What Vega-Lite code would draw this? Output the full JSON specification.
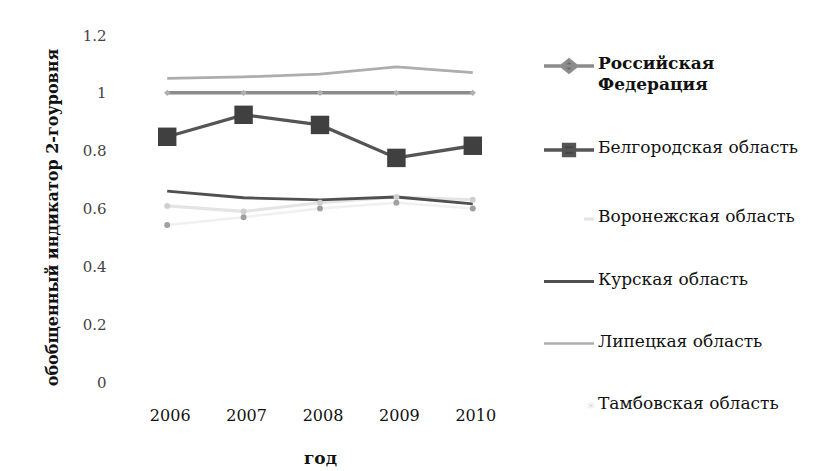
{
  "$schema": "https://vega.github.io/schema/vega-lite/v6.json",
  "width": 382,
  "height": 347,
  "autosize": {"type": "none"},
  "padding": {"left": 129, "top": 35, "right": 302, "bottom": 89},
  "background": "white",
  "config": {
    "view": {"stroke": null},
    "font": "DejaVu Serif",
    "style": {"guide-label": {"font": "DejaVu Serif"}, "guide-title": {"font": "DejaVu Serif"}},
    "legend": {"labelFont": "DejaVu Serif", "labelFontSize": 17}
  },
  "data": {
    "values": [
      {"year": "2006", "series": "Российская Федерация", "value": 1.0},
      {"year": "2007", "series": "Российская Федерация", "value": 1.0},
      {"year": "2008", "series": "Российская Федерация", "value": 1.0},
      {"year": "2009", "series": "Российская Федерация", "value": 1.0},
      {"year": "2010", "series": "Российская Федерация", "value": 1.0},
      {"year": "2006", "series": "Белгородская область", "value": 0.848},
      {"year": "2007", "series": "Белгородская область", "value": 0.924},
      {"year": "2008", "series": "Белгородская область", "value": 0.889},
      {"year": "2009", "series": "Белгородская область", "value": 0.775},
      {"year": "2010", "series": "Белгородская область", "value": 0.817},
      {"year": "2006", "series": "Воронежская область", "value": 0.609},
      {"year": "2007", "series": "Воронежская область", "value": 0.59},
      {"year": "2008", "series": "Воронежская область", "value": 0.62},
      {"year": "2009", "series": "Воронежская область", "value": 0.64},
      {"year": "2010", "series": "Воронежская область", "value": 0.63},
      {"year": "2006", "series": "Курская область", "value": 0.66},
      {"year": "2007", "series": "Курская область", "value": 0.637},
      {"year": "2008", "series": "Курская область", "value": 0.63},
      {"year": "2009", "series": "Курская область", "value": 0.64},
      {"year": "2010", "series": "Курская область", "value": 0.616},
      {"year": "2006", "series": "Липецкая область", "value": 1.05},
      {"year": "2007", "series": "Липецкая область", "value": 1.055},
      {"year": "2008", "series": "Липецкая область", "value": 1.065},
      {"year": "2009", "series": "Липецкая область", "value": 1.09},
      {"year": "2010", "series": "Липецкая область", "value": 1.07},
      {"year": "2006", "series": "Тамбовская область", "value": 0.543},
      {"year": "2007", "series": "Тамбовская область", "value": 0.57},
      {"year": "2008", "series": "Тамбовская область", "value": 0.6},
      {"year": "2009", "series": "Тамбовская область", "value": 0.62},
      {"year": "2010", "series": "Тамбовская область", "value": 0.6}
    ]
  },
  "encoding": {
    "x": {
      "field": "year",
      "type": "ordinal",
      "scale": {"type": "band", "paddingInner": 0, "paddingOuter": 0},
      "axis": {
        "title": "год",
        "titleFont": "DejaVu Serif",
        "titleFontSize": 17,
        "titleFontWeight": "bold",
        "titleColor": "#111",
        "titleY": 76,
        "titleBaseline": "middle",
        "labelAngle": 0,
        "labelFont": "DejaVu Serif",
        "labelFontSize": 16,
        "labelColor": "#111",
        "labelPadding": 25,
        "labelOffset": 3,
        "ticks": false,
        "domain": false,
        "grid": false
      }
    },
    "y": {
      "field": "value",
      "type": "quantitative",
      "scale": {"domain": [0, 1.2], "nice": false, "zero": true},
      "axis": {
        "title": "обобщенный индикатор 2-гоуровня",
        "titleFont": "DejaVu Serif",
        "titleFontSize": 16,
        "titleFontWeight": "bold",
        "titleColor": "#111",
        "titleAngle": 270,
        "titleX": -77,
        "titleY": 182,
        "titleAlign": "center",
        "titleBaseline": "middle",
        "values": [0, 0.2, 0.4, 0.6, 0.8, 1, 1.2],
        "labelExpr": "format(datum.value, '~g')",
        "labelFont": "DejaVu Serif",
        "labelFontSize": 15,
        "labelColor": "#444",
        "labelPadding": 23,
        "ticks": false,
        "domain": false,
        "grid": false
      }
    }
  },
  "layer": [
    {
      "mark": {"type": "line"},
      "encoding": {
        "color": {
          "field": "series",
          "type": "nominal",
          "sort": ["Российская Федерация", "Белгородская область", "Воронежская область", "Курская область", "Липецкая область", "Тамбовская область"],
          "scale": {
            "domain": ["Российская Федерация", "Белгородская область", "Воронежская область", "Курская область", "Липецкая область", "Тамбовская область"],
            "range": ["#8c8c8c", "#555555", "#e4e4e4", "#505050", "#adadad", "#f0f0f0"]
          },
          "legend": {
            "title": null,
            "orient": "none",
            "legendX": 428,
            "legendY": 19,
            "padding": 0,
            "symbolSize": 400,
            "symbolStrokeWidth": 3,
            "labelFont": "DejaVu Serif",
            "labelFontSize": 17,
            "labelColor": "#111",
            "labelLimit": 400,
            "labelOffset": 17,
            "rowPadding": 44,
            "labelExpr": "datum.label == 'Российская Федерация' ? ['Российская', 'Федерация'] : datum.label",
            "encode": {
              "symbols": {
                "update": {
                  "shape": {"signal": "datum.value == 'Российская Федерация' ? 'M-2.5,0H2.5M-0.75,0L0,-0.6L0.75,0L0,0.6Z' : datum.value == 'Белгородская область' ? 'M-2.5,0H2.5M-0.55,-0.55H0.55V0.55H-0.55Z' : datum.value == 'Воронежская область' ? 'M1.5,0H2.5' : datum.value == 'Тамбовская область' ? 'M2,-0.15H2.4V0.15H2Z' : 'M-2.5,0H2.5'"},
                  "fill": {"signal": "datum.value == 'Российская Федерация' ? '#666' : datum.value == 'Белгородская область' ? '#444' : datum.value == 'Тамбовская область' ? '#999' : 'transparent'"},
                  "stroke": {"signal": "datum.value == 'Воронежская область' ? '#bbbbbb' : datum.value == 'Тамбовская область' ? '#999999' : scale('color', datum.value)"},
                  "strokeWidth": {"value": 3}
                }
              },
              "labels": {
                "update": {
                  "font": {"value": "DejaVu Serif"},
                  "fontSize": {"value": 17},
                  "fill": {"value": "#111"},
                  "baseline": {"value": "top"},
                  "dy": {"value": -10},
                  "lineHeight": {"value": 21},
                  "fontWeight": {"signal": "datum.value == 'Российская Федерация' ? 'bold' : 'normal'"}
                }
              }
            }
          }
        },
        "strokeWidth": {
          "field": "series",
          "type": "nominal",
          "scale": {
            "domain": ["Российская Федерация", "Белгородская область", "Воронежская область", "Курская область", "Липецкая область", "Тамбовская область"],
            "range": [3.5, 2.5, 2, 3, 3.5, 1.5]
          },
          "legend": null
        }
      }
    },
    {
      "transform": [{"filter": "datum.series == 'Российская Федерация'"}],
      "mark": {"type": "point", "shape": "diamond", "filled": true, "size": 40, "color": "#b0b0b0", "opacity": 1}
    },
    {
      "transform": [{"filter": "datum.series == 'Белгородская область'"}],
      "mark": {"type": "point", "shape": "square", "filled": true, "size": 340, "color": "#404040", "opacity": 1}
    },
    {
      "transform": [{"filter": "datum.series == 'Воронежская область'"}],
      "mark": {"type": "point", "shape": "circle", "filled": true, "size": 35, "color": "#cfcfcf", "opacity": 1}
    },
    {
      "transform": [{"filter": "datum.series == 'Тамбовская область'"}],
      "mark": {"type": "point", "shape": "circle", "filled": true, "size": 35, "color": "#a0a0a0", "opacity": 1}
    }
  ]
}
